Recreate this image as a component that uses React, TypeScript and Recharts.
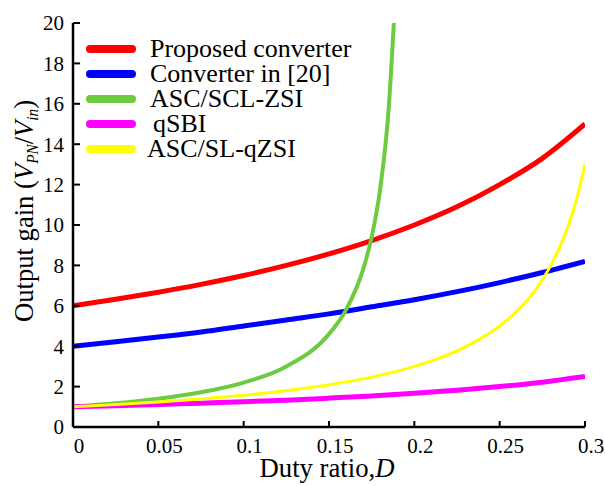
import React from 'react';
import { LineChart, Line, XAxis, YAxis, Customized } from 'recharts';

// Duty ratio D (x) and output gain (y)
const dutyProposed = [0, 0.025, 0.05, 0.075, 0.1, 0.125, 0.15, 0.175, 0.2, 0.225, 0.25, 0.275, 0.3];
const gainProposed = [6, 6.32, 6.67, 7.06, 7.5, 8.0, 8.57, 9.23, 10, 10.9, 12, 13.3, 15];

const dutyRef20 = [0, 0.025, 0.05, 0.075, 0.1, 0.125, 0.15, 0.175, 0.2, 0.225, 0.25, 0.275, 0.3];
const gainRef20 = [4, 4.22, 4.45, 4.7, 5.0, 5.3, 5.6, 5.95, 6.3, 6.7, 7.15, 7.65, 8.2];

const dutyAscScl = [0, 0.025, 0.05, 0.075, 0.1, 0.125, 0.15, 0.16, 0.17, 0.175, 0.18, 0.185, 0.188];
const gainAscScl = [1, 1.17, 1.4, 1.72, 2.2, 3.0, 4.6, 5.8, 7.8, 9.4, 11.8, 15.8, 20];

const dutyQsbi = [0, 0.025, 0.05, 0.075, 0.1, 0.125, 0.15, 0.175, 0.2, 0.225, 0.25, 0.275, 0.3];
const gainQsbi = [1, 1.05, 1.11, 1.18, 1.25, 1.33, 1.43, 1.54, 1.67, 1.82, 2.0, 2.22, 2.5];

const dutyAscSl = [0, 0.025, 0.05, 0.075, 0.1, 0.125, 0.15, 0.175, 0.2, 0.225, 0.25, 0.26, 0.27, 0.275, 0.28, 0.285, 0.29, 0.295, 0.3];
const gainAscSl = [1, 1.11, 1.24, 1.39, 1.57, 1.8, 2.09, 2.47, 3.0, 3.77, 5.0, 5.73, 6.68, 7.29, 8.0, 8.86, 9.92, 11.26, 13];

const xTicks = [0, 0.05, 0.1, 0.15, 0.2, 0.25, 0.3];
const yTicks = [0, 2, 4, 6, 8, 10, 12, 14, 16, 18, 20];

const toPoints = (d: number[], g: number[]) => d.map((x, i) => ({ D: x, gain: g[i] }));

const series = [
  { name: 'Proposed converter', color: '#ff0000', width: 5, data: toPoints(dutyProposed, gainProposed) },
  { name: 'Converter in [20]', color: '#0000ff', width: 5, data: toPoints(dutyRef20, gainRef20) },
  { name: 'ASC/SCL-ZSI', color: '#6ccb3f', width: 4, data: toPoints(dutyAscScl, gainAscScl) },
  { name: 'qSBI', color: '#ff00ff', width: 5, data: toPoints(dutyQsbi, gainQsbi) },
  { name: 'ASC/SL-qZSI', color: '#ffff00', width: 3, data: toPoints(dutyAscSl, gainAscSl) },
];

const FONT = '"Liberation Serif", "Times New Roman", serif';

const Titles = () => (
  <g fontFamily={FONT} fill="#000">
    <text x={327} y={477} fontSize={27} textAnchor="middle" textLength={135} lengthAdjust="spacingAndGlyphs">
      Duty ratio,<tspan fontStyle="italic">D</tspan>
    </text>
    <text
      x={33}
      y={211}
      fontSize={28}
      textAnchor="middle"
      transform="rotate(-90 33 211)"
      textLength={222}
      lengthAdjust="spacingAndGlyphs"
    >
      Output gain (<tspan fontStyle="italic">V</tspan>
      <tspan fontStyle="italic" fontSize={16} dy={5}>PN</tspan>
      <tspan dy={-5}>/</tspan>
      <tspan fontStyle="italic">V</tspan>
      <tspan fontStyle="italic" fontSize={16} dy={5}>in</tspan>
      <tspan dy={-5}>)</tspan>
    </text>
  </g>
);

const App = () => {
  const tickStyle = { fill: '#000', fontSize: 21, fontFamily: FONT };
  const axisLine = { stroke: '#000', strokeWidth: 2.5 };
  return (
    <div style={{ position: 'absolute', left: 0, top: 0, width: 605, height: 486, background: '#fff' }}>
      <LineChart width={605} height={486} margin={{ top: 23, right: 20, bottom: 29, left: 33 }}>
        <XAxis
          dataKey="D"
          type="number"
          domain={[0, 0.3]}
          ticks={xTicks}
          height={30}
          tick={{ ...tickStyle, dx: 6 }}
          tickSize={-6}
          tickMargin={17}
          axisLine={axisLine}
          tickLine={{ stroke: '#000', strokeWidth: 2 }}
          allowDataOverflow
        />
        <XAxis xAxisId="top" orientation="top" type="number" domain={[0, 0.3]} height={0} tick={false} tickLine={false} axisLine={axisLine} />
        <YAxis
          type="number"
          domain={[0, 20]}
          ticks={yTicks}
          width={40}
          tick={tickStyle}
          tickSize={-7}
          tickMargin={16}
          axisLine={axisLine}
          tickLine={{ stroke: '#000', strokeWidth: 2 }}
          allowDataOverflow
        />
        <YAxis yAxisId="right" orientation="right" type="number" domain={[0, 20]} width={0} tick={false} tickLine={false} axisLine={axisLine} />
        {series.map((s) => (
          <Line
            key={s.name}
            data={s.data}
            dataKey="gain"
            name={s.name}
            type="monotone"
            stroke={s.color}
            strokeWidth={s.width}
            dot={false}
            activeDot={false}
            isAnimationActive={false}
          />
        ))}
        <Customized component={Titles} />
      </LineChart>
      {/* Legend overlay */}
      <div style={{ position: 'absolute', left: 86, top: 36, fontFamily: FONT, fontSize: 26, lineHeight: '25px' }}>
        {series.map((s, i) => (
          <div key={s.name} style={{ display: 'flex', alignItems: 'center', height: 25 }}>
            <div style={{ width: 50, height: 8, borderRadius: 4, background: s.color }} />
            <span style={{ marginLeft: i === 3 ? 17 : i === 4 ? 11 : 14, whiteSpace: 'nowrap' }}>{s.name}</span>
          </div>
        ))}
      </div>
    </div>
  );
};

export default App;
